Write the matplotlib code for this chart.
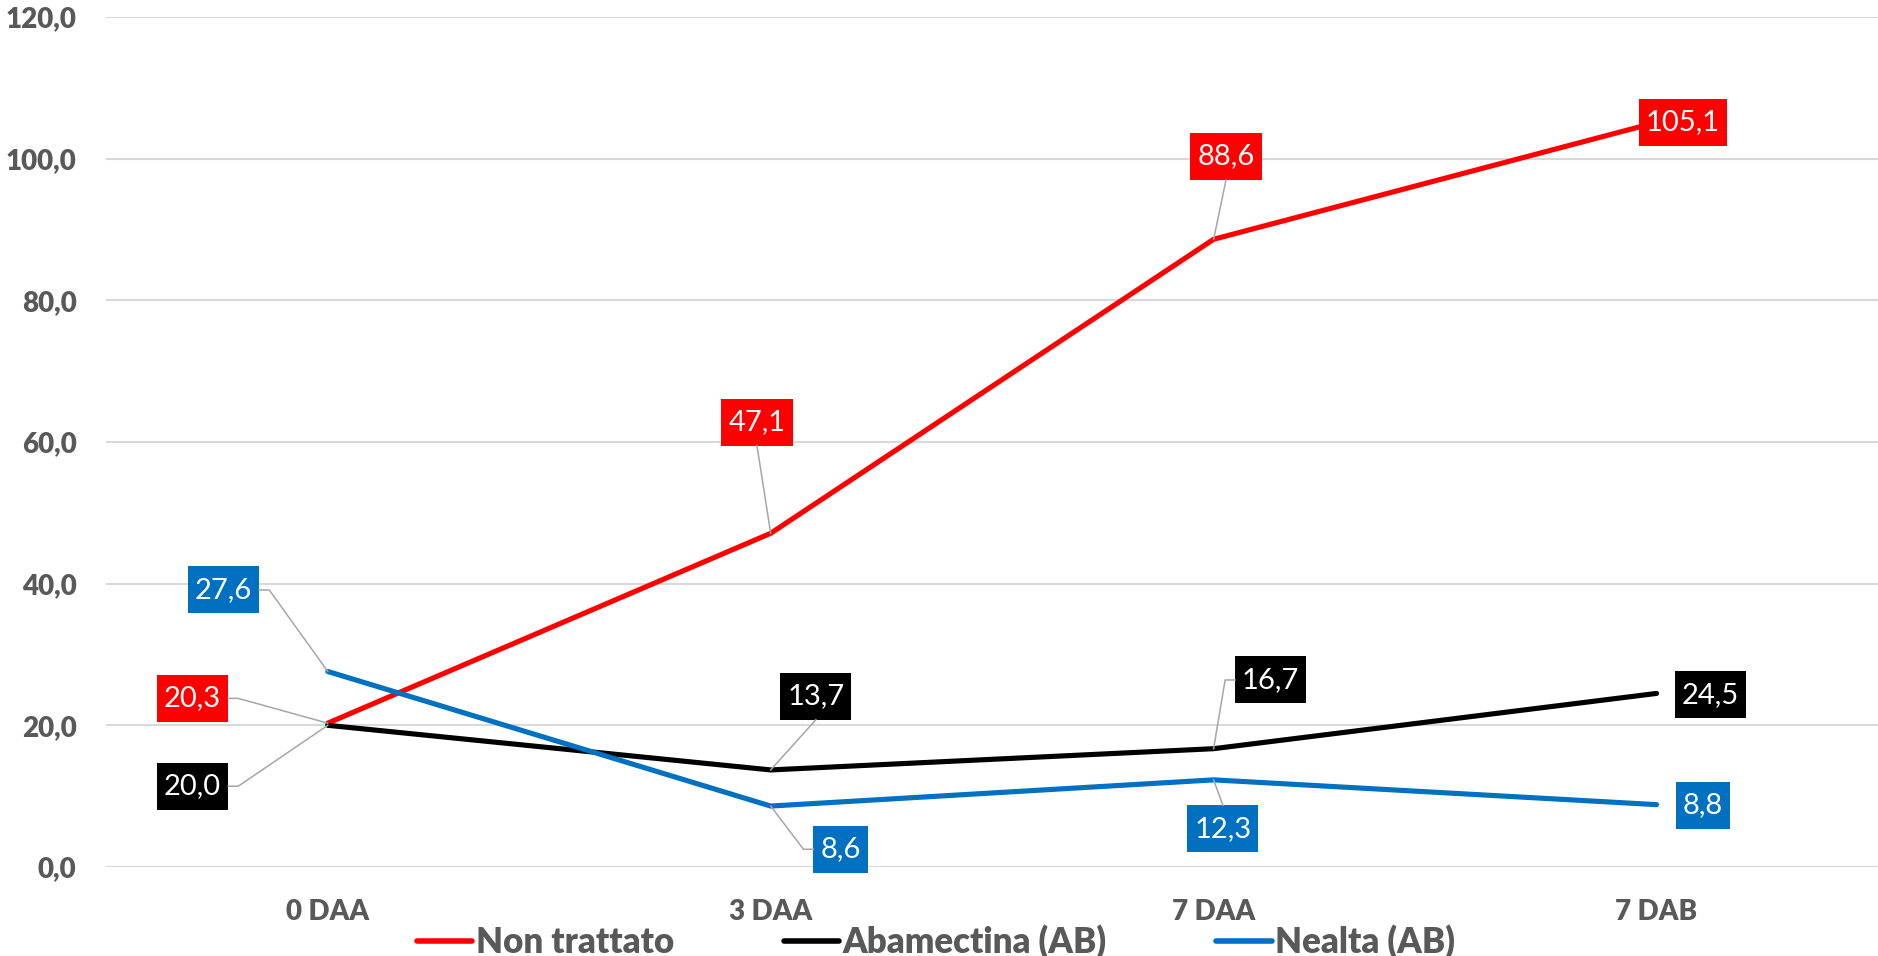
import matplotlib
matplotlib.use("Agg")
import matplotlib.pyplot as plt
from matplotlib.lines import Line2D
from matplotlib.path import Path

categories = ["0 DAA", "3 DAA", "7 DAA", "7 DAB"]
series_names = ["Non trattato", "Abamectina (AB)", "Nealta (AB)"]
non_trattato = [20.3, 47.1, 88.6, 105.1]
abamectina = [20.0, 13.7, 16.7, 24.5]
nealta = [27.6, 8.6, 12.3, 8.8]
y_ticks = [0, 20, 40, 60, 80, 100, 120]

colors = ["#FF0000", "#000000", "#0070C0"]
# label offsets (dx in category units, dy in value units) per series / point
label_offsets = [
    [(-0.305, 3.5), (-0.031, 15.7), (0.028, 11.7), (0.06, 0.0)],
    [(-0.305, -8.6), (0.102, 10.4), (0.129, 9.7), (0.121, -0.2)],
    [(-0.235, 11.5), (0.158, -6.1), (0.021, -6.9), (0.105, -0.1)],
]
# side of the label box where the leader line starts (None = no leader)
leader_side = [
    ["right", "bottom", "bottom", None],
    ["right", "bottom", "left", None],
    ["right", "left", "top", None],
]


def label_box(x0, y0, width, height, mutation_size):
    padx = 0.24 * mutation_size
    pady = 0.36 * mutation_size
    x0, y0 = x0 - padx, y0 - pady
    x1, y1 = x0 + width + 2 * padx, y0 + height + 2 * pady
    return Path([(x0, y0), (x1, y0), (x1, y1), (x0, y1), (x0, y0)],
                closed=True)


plt.rcParams['font.family'] = ['Lato', 'DejaVu Sans']
fig = plt.figure(figsize=(18.78, 9.56), dpi=100)
ax = fig.add_axes([0.0566, 0.0931, 1 - 0.0566, 0.9824 - 0.0931])

x = list(range(len(categories)))
all_series = [non_trattato, abamectina, nealta]
for vals, col, name in zip(all_series, colors, series_names):
    ax.plot(x, vals, color=col, lw=3.7, solid_capstyle='round',
            solid_joinstyle='round', label=name, zorder=3)

anns = []
for s, (vals, col) in enumerate(zip(all_series, colors)):
    for i, v in enumerate(vals):
        dx, dy = label_offsets[s][i]
        txt = f"{v:.1f}".replace(".", ",")
        a = ax.annotate(txt, xy=(i, v), xytext=(i + dx, v + dy),
                        textcoords='data', ha='center', va='center',
                        fontsize=21, color='white',
                        bbox=dict(boxstyle=label_box, fc=col, ec='none'),
                        zorder=5)
        anns.append((a, i, v, leader_side[s][i]))

ax.set_xlim(-0.5, 3.5)
ax.set_ylim(0, 120)
ax.set_yticks(y_ticks)
ax.set_yticklabels([f"{t:.1f}".replace(".", ",") for t in y_ticks])
ax.set_xticks(x)
ax.set_xticklabels(categories)
for lab in ax.get_yticklabels() + ax.get_xticklabels():
    lab.set_fontweight('heavy')
    lab.set_fontsize(20)
    lab.set_color('#595959')
ax.tick_params(axis='both', length=0)
ax.tick_params(axis='y', pad=21.5)
ax.tick_params(axis='x', pad=23)
ax.grid(axis='y', color='#D9D9D9', lw=1.5, zorder=0)
ax.set_axisbelow(True)
for sp in ax.spines.values():
    sp.set_visible(False)

handles = [Line2D([0], [0], color=c, lw=4, solid_capstyle='round') for c in colors]
leg = fig.legend(handles, series_names, loc='center left',
                 bbox_to_anchor=(0.222, 0.015), ncol=3, frameon=False,
                 handlelength=1.6, handletextpad=0.1, columnspacing=3.15,
                 borderpad=0, borderaxespad=0,
                 prop={'size': 25, 'weight': 'heavy'})
for t in leg.get_texts():
    t.set_color('#595959')

# leader lines with Excel-like horizontal jog
fig.canvas.draw()
jog = 10
for a, i, v, side in anns:
    if side is None:
        continue
    bb = a.get_bbox_patch().get_window_extent()
    px, py = ax.transData.transform((i, v))
    cx = (bb.x0 + bb.x1) / 2
    cy = (bb.y0 + bb.y1) / 2
    if side == "right":
        pts = [(bb.x1, cy), (bb.x1 + jog, cy), (px, py)]
    elif side == "left":
        pts = [(bb.x0, cy), (bb.x0 - jog, cy), (px, py)]
    elif side == "bottom":
        pts = [(cx, bb.y0), (px, py)]
    else:
        pts = [(cx, bb.y1), (px, py)]
    xs = [p[0] for p in pts]
    ys = [p[1] for p in pts]
    fig.add_artist(Line2D(xs, ys, transform=None, color='#A6A6A6', lw=1.1,
                          zorder=4))

fig.savefig("out.png", dpi=100)
